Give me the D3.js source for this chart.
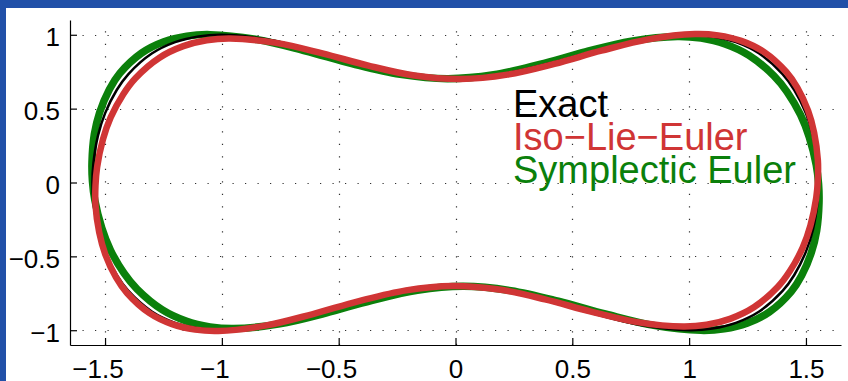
<!DOCTYPE html>
<html>
<head>
<meta charset="utf-8">
<script src="https://cdn.jsdelivr.net/npm/d3@7"></script>
<style>
  html, body { margin: 0; padding: 0; background: #2150a8; }
  svg { display: block; }
</style>
</head>
<body>
<svg id="chart" width="848" height="381"></svg>
<script>
// Phase-plane orbits (q horizontal, p vertical), one closed loop per method.
const exactX = [1.554, 1.550, 1.530, 1.500, 1.450, 1.400, 1.300, 1.200, 1.100, 1.000, 0.800, 0.600, 0.400, 0.200, 0.000,
  -0.200, -0.400, -0.600, -0.800, -1.000, -1.100, -1.200, -1.300, -1.400, -1.450, -1.500, -1.530, -1.550, -1.554,
  -1.550, -1.530, -1.500, -1.450, -1.400, -1.300, -1.200, -1.100, -1.000, -0.800, -0.600, -0.400, -0.200, 0.000,
  0.200, 0.400, 0.600, 0.800, 1.000, 1.100, 1.200, 1.300, 1.400, 1.450, 1.500, 1.530, 1.550];
const exactY = [0.000, 0.128, 0.318, 0.468, 0.626, 0.734, 0.873, 0.950, 0.989, 1.000, 0.967, 0.892, 0.805, 0.734, 0.707,
  0.734, 0.805, 0.892, 0.967, 1.000, 0.989, 0.950, 0.873, 0.734, 0.626, 0.468, 0.318, 0.128, 0.000,
  -0.128, -0.318, -0.468, -0.626, -0.734, -0.873, -0.950, -0.989, -1.000, -0.967, -0.892, -0.805, -0.734, -0.707,
  -0.734, -0.805, -0.892, -0.967, -1.000, -0.989, -0.950, -0.873, -0.734, -0.626, -0.468, -0.318, -0.128];

const isoX = [1.551, 1.551, 1.535, 1.509, 1.463, 1.416, 1.320, 1.223, 1.124, 1.025, 0.825, 0.624, 0.423, 0.222, 0.023,
  -0.176, -0.373, -0.570, -0.767, -0.965, -1.065, -1.165, -1.267, -1.370, -1.422, -1.476, -1.509, -1.534, -1.541,
  -1.541, -1.525, -1.499, -1.453, -1.406, -1.310, -1.213, -1.114, -1.015, -0.815, -0.614, -0.413, -0.212, -0.013,
  0.186, 0.383, 0.580, 0.777, 0.975, 1.075, 1.175, 1.277, 1.380, 1.432, 1.486, 1.519, 1.544];
const isoY = [0.023, 0.150, 0.338, 0.486, 0.642, 0.748, 0.884, 0.959, 0.996, 1.005, 0.969, 0.892, 0.803, 0.730, 0.700,
  0.724, 0.791, 0.874, 0.945, 0.975, 0.963, 0.923, 0.845, 0.706, 0.598, 0.441, 0.292, 0.103, -0.023,
  -0.150, -0.338, -0.486, -0.642, -0.748, -0.884, -0.959, -0.996, -1.005, -0.969, -0.892, -0.803, -0.730, -0.700,
  -0.724, -0.791, -0.874, -0.945, -0.975, -0.963, -0.923, -0.845, -0.706, -0.598, -0.441, -0.292, -0.103];

const sympX = [1.554, 1.544, 1.514, 1.477, 1.419, 1.363, 1.256, 1.153, 1.051, 0.950, 0.752, 0.555, 0.360, 0.163, -0.035,
  -0.237, -0.440, -0.645, -0.848, -1.050, -1.150, -1.248, -1.344, -1.437, -1.481, -1.523, -1.546, -1.556, -1.554,
  -1.544, -1.514, -1.477, -1.419, -1.363, -1.256, -1.153, -1.051, -0.950, -0.752, -0.555, -0.360, -0.163, 0.035,
  0.237, 0.440, 0.645, 0.848, 1.050, 1.150, 1.248, 1.344, 1.437, 1.481, 1.523, 1.546, 1.556];
const sympY = [-0.009, 0.118, 0.307, 0.457, 0.614, 0.722, 0.861, 0.938, 0.977, 0.989, 0.957, 0.884, 0.799, 0.729, 0.703,
  0.732, 0.803, 0.891, 0.967, 1.001, 0.991, 0.953, 0.876, 0.739, 0.632, 0.475, 0.326, 0.137, 0.009,
  -0.118, -0.307, -0.457, -0.614, -0.722, -0.861, -0.938, -0.977, -0.989, -0.957, -0.884, -0.799, -0.729, -0.703,
  -0.732, -0.803, -0.891, -0.967, -1.001, -0.991, -0.953, -0.876, -0.739, -0.632, -0.475, -0.326, -0.137];

const xTicks = [-1.5, -1, -0.5, 0, 0.5, 1, 1.5];
const xTickLabels = ["\u22121.5", "\u22121", "\u22120.5", "0", "0.5", "1", "1.5"];
const yTicks = [-1, -0.5, 0, 0.5, 1];
const yTickLabels = ["\u22121", "\u22120.5", "0", "0.5", "1"];

const legendLabels = ["Exact", "Iso\u2212Lie\u2212Euler", "Symplectic Euler"];

// ---- layout ----
const W = 848, H = 381;
const plot = { left: 70, right: 841, top: 20, bottom: 345 };
const FONT = "'Liberation Sans', Arial, Helvetica, sans-serif";
const colors = { exact: "#000000", iso: "#d03535", symp: "#0b800b" };

const svg = d3.select("#chart");

// white figure panel inside the blue frame
svg.append("rect").attr("x", 6).attr("y", 8).attr("width", W - 6).attr("height", H - 8).attr("fill", "#ffffff");

const x = d3.scaleLinear().domain([-1.65, 1.65]).range([plot.left, plot.right]);
const y = d3.scaleLinear().domain([-1.1, 1.1]).range([plot.bottom, plot.top]);

// dotted grid
const grid = svg.append("g").attr("stroke", "#303030").attr("stroke-width", 1.2)
  .attr("stroke-dasharray", "1.2,11.3").attr("fill", "none");
grid.selectAll("line.v").data(xTicks).join("line").attr("class", "v")
  .attr("x1", d => Math.round(x(d)) + 0.5).attr("x2", d => Math.round(x(d)) + 0.5)
  .attr("y1", plot.bottom).attr("y2", plot.top);
grid.selectAll("line.h").data(yTicks).join("line").attr("class", "h")
  .attr("y1", d => Math.round(y(d)) + 0.5).attr("y2", d => Math.round(y(d)) + 0.5)
  .attr("x1", plot.left).attr("x2", plot.right);

// orbits
const line = d3.line()
  .x(d => x(d[0])).y(d => y(d[1]))
  .curve(d3.curveCatmullRomClosed.alpha(0.5));
const zip = (xs, ys) => xs.map((v, i) => [v, ys[i]]);

const series = [
  { pts: zip(sympX, sympY), color: colors.symp, width: 7.5 },
  { pts: zip(exactX, exactY), color: colors.exact, width: 2.5 },
  { pts: zip(isoX, isoY), color: colors.iso, width: 6.5 }
];
svg.append("g").selectAll("path").data(series).join("path")
  .attr("d", d => line(d.pts))
  .attr("fill", "none")
  .attr("stroke", d => d.color)
  .attr("stroke-width", d => d.width)
  .attr("stroke-linejoin", "round");

// axes with inward ticks
const fs = 26;
const xAxis = svg.append("g").attr("transform", `translate(0,${plot.bottom})`)
  .call(d3.axisBottom(x).tickValues(xTicks).tickSizeInner(-7).tickSizeOuter(0).tickPadding(15)
    .tickFormat((d, i) => xTickLabels[i]));
const yAxis = svg.append("g").attr("transform", `translate(${plot.left},0)`)
  .call(d3.axisLeft(y).tickValues(yTicks).tickSizeInner(-7).tickSizeOuter(0).tickPadding(10)
    .tickFormat((d, i) => yTickLabels[i]));

[xAxis, yAxis].forEach(g => {
  g.select(".domain").attr("stroke", "#000").attr("stroke-width", 1.2);
  g.selectAll(".tick line").attr("stroke", "#000").attr("stroke-width", 1.2);
  g.selectAll("text").attr("font-family", FONT).attr("font-size", fs).attr("fill", "#000");
});
yAxis.selectAll("text").attr("dy", "0.42em");

// negative x labels: digits centred on the tick, minus sign hanging to the left
const probe = svg.append("text").attr("font-family", FONT).attr("font-size", fs).text("\u2212");
const minusW = probe.node().getComputedTextLength();
probe.remove();
xAxis.selectAll(".tick text").attr("dx", (d, i) => xTickLabels[i].startsWith("\u2212") ? -minusW / 2 : 0);

// legend
const legend = svg.append("g").attr("font-family", FONT).attr("font-size", 38);
const legendColors = [colors.exact, colors.iso, colors.symp];
legend.selectAll("text").data(legendLabels).join("text")
  .attr("x", 513)
  .attr("y", (d, i) => 116.5 + i * 33.3)
  .attr("fill", (d, i) => legendColors[i])
  .text(d => d);
</script>
</body>
</html>
